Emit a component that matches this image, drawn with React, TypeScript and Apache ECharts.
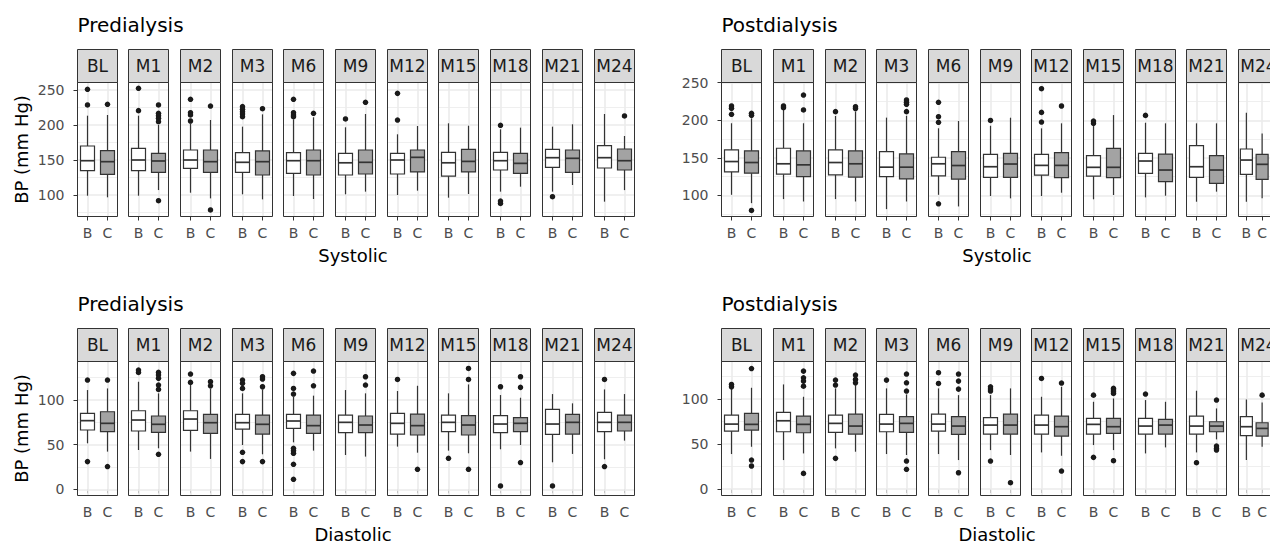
import React, { useEffect, useRef } from 'react';
import * as echarts from 'echarts';

const facets = ['BL', 'M1', 'M2', 'M3', 'M6', 'M9', 'M12', 'M15', 'M18', 'M21', 'M24'];
const groups = ['B', 'C'];
const sysTicks = [100, 150, 200, 250];
const sysMinor = [75, 125, 175, 225];
const diaTicks = [0, 50, 100];
const diaMinor = [25, 75, 125];

// box stats per facet: [lower whisker, Q1, median, Q3, upper whisker]
const preSysB = [
  [99, 134.8, 149, 170, 213.3], [99, 134.8, 150, 166.7, 213.3], [103.3, 138.1, 150, 164.3, 202],
  [101, 132.4, 146.7, 160.5, 197.6], [98.6, 131, 149, 160.5, 208.1], [101, 128.6, 146, 159.5, 196.7],
  [100, 130, 150, 159.5, 186.7], [96.2, 127, 146, 161, 202.4], [104.8, 135.7, 149, 161, 193.8],
  [104.8, 139.5, 153.3, 165.2, 197.6], [90.5, 138.6, 153.3, 170.5, 215.7],
];
const preSysC = [
  [96.7, 129.5, 147.6, 163.3, 214.3], [107.1, 132.4, 148.6, 159.5, 200], [95.2, 132.4, 147.6, 164.3, 207.1],
  [93.8, 128.6, 147.6, 162.9, 215.2], [94.3, 128.6, 149, 164.3, 211], [104.8, 130, 146.7, 164.3, 215.7],
  [106.2, 132.9, 153.8, 164.3, 198.6], [101.4, 132.9, 148, 165.2, 199], [111.9, 131, 145.2, 159.5, 196.2],
  [114.3, 132.4, 152.4, 164.3, 201], [107, 135.7, 149, 165.7, 184.3],
];
const preSysOutB = [
  [251, 228.6], [252.4, 220.5], [236.7, 217.6, 214.3, 205.7], [226.2, 222.4, 219, 215.7, 211.9],
  [236.7, 217.6, 214.3, 211.9], [208.6], [245.2, 207.1], [], [199.5, 91.4, 88], [97.6], [],
];
const preSysOutC = [
  [229.5], [228.6, 216.7, 213.3, 209.5, 204.8, 91.9], [227.1, 78.6], [223.3], [216.7], [232.4],
  [], [], [], [], [212.9],
];

const postSysB = [
  [100.7, 131.3, 145, 160.5, 196], [95, 128.2, 142, 162.7, 213.7], [95, 127.3, 143.7, 160.5, 205.7],
  [81.6, 125, 137.5, 158.3, 203.5], [100.7, 125.9, 142, 150.7, 189.3], [99.1, 124, 138.1, 154.6, 192.7],
  [99.1, 127, 139.9, 154.6, 189.2], [94.7, 125.7, 137.3, 152.8, 192.3], [97.3, 129.3, 145.7, 155.9, 196.7],
  [91.5, 124, 138.1, 166.1, 195.9], [91.5, 128, 147, 161.7, 210],
];
const postSysC = [
  [89.6, 129.5, 143.7, 159.2, 202.6], [91.8, 125, 140.6, 159.2, 196], [91.8, 124.2, 142, 159.2, 211.5],
  [91.8, 121.9, 137.5, 155.2, 206], [85.2, 121.5, 139.7, 158.3, 199], [96, 124, 141.7, 155.9, 203.4],
  [103.5, 123.5, 139.9, 156.8, 195.9], [100.4, 123.5, 137.3, 162.6, 206.9], [99.5, 118.2, 133.7, 155, 195.9],
  [104.9, 116, 133.7, 152.8, 195.9], [96, 121.3, 141.3, 154.6, 182.5],
];
const postSysOutB = [
  [219, 215.9, 207.9], [219, 216.8], [211.5], [], [223.9, 204.8, 197.3, 88.7], [199.8],
  [242, 210.5, 197.6], [199, 195.9], [206.5], [], [],
];
const postSysOutC = [
  [209.3, 206.6, 79.9], [233.6, 213.7], [218.1, 215.5], [227, 223.9, 221.2, 211.5], [], [],
  [219], [], [], [], [],
];

const preDiaB = [
  [51.5, 66.4, 76.9, 85.1, 111.2], [44, 65.3, 77.6, 88, 120.5], [42.2, 66, 78.7, 88, 116.8],
  [49.6, 67.5, 74.6, 84, 107.5], [52.6, 68.3, 76.5, 84, 103.7], [38.4, 63.4, 75, 83.2, 111.2],
  [47.8, 61.9, 73.9, 85.1, 110.1], [43.3, 64.6, 75, 83.2, 107.5], [44.8, 63.4, 73.1, 82.5, 105.6],
  [30.2, 61.6, 73.1, 89.6, 106.7], [33.6, 64.6, 75, 86.2, 111.9],
];
const preDiaC = [
  [42.2, 64.6, 73.9, 86.9, 113], [45.9, 63.8, 72.8, 82.1, 107.5], [34, 62.7, 74.6, 84, 113],
  [39.2, 61.9, 72.8, 83.2, 111.9], [43.3, 62.7, 71.3, 83.2, 104.9], [36.6, 63.4, 72, 82.1, 107.5],
  [41, 60.8, 71.3, 84.3, 116], [40.3, 60.8, 72, 82.5, 117.5], [49.6, 64.6, 73.9, 80.2, 102.6],
  [39.6, 61.9, 75, 84, 96.3], [54.5, 65.3, 75, 83.2, 106.7],
];
const preDiaOutB = [
  [122.4, 31], [133.6, 131], [129.1, 119.8], [122.4, 118.7, 113, 41.4, 31],
  [129.9, 113, 106.7, 45.9, 43.3, 40.3, 28, 11.2], [], [123.1], [34.7], [114.9, 3.7], [3.7], [123.1, 25.4],
];
const preDiaOutC = [
  [122.4, 25.4], [131, 128, 124.3, 116.8, 111.9, 39.2], [120.5, 116], [126.1, 123.5, 114.9, 31],
  [132.5, 116], [126.1, 116.8], [22.4], [135.4, 123.1, 22.4], [126.1, 114.2, 29.9], [], [],
];

const postDiaB = [
  [38.9, 64.4, 72.2, 82.2, 111.9], [32.2, 63.7, 75.9, 85.2, 116.3], [45.2, 63, 73, 82.2, 111.9],
  [38.9, 63.7, 72.2, 83, 111.9], [38.9, 64.4, 72.2, 83.3, 111.9], [43.3, 61.1, 71.1, 79.3, 104.4],
  [40.7, 61.1, 71.1, 82.2, 102.6], [48.9, 61.1, 71.9, 78.5, 97], [39.6, 61.1, 70, 78.5, 98.9],
  [40.7, 61.1, 70, 81.1, 109.3], [32.2, 59.3, 69.3, 80.4, 99.6],
];
const postDiaC = [
  [47, 65.6, 71.9, 84.1, 112.6], [39.6, 62.6, 71.9, 81.1, 102.6], [41.5, 61.1, 70, 83.3, 115.6],
  [37.8, 63, 73, 80.4, 105.2], [32.2, 60.7, 70, 80.4, 104.4], [37.8, 61.1, 71.1, 83.3, 111.9],
  [37, 58.9, 69.3, 81.1, 113.7], [43.3, 61.9, 69.3, 78.5, 100.7], [46.3, 61.1, 71.1, 77.4, 97],
  [55.2, 63.7, 70, 74.8, 89.6], [47, 58.9, 67.4, 73.7, 96.3],
];
const postDiaOutB = [
  [116.3, 113.7], [], [121.1, 115.6, 34.1], [121.1], [129.3, 117.4], [113.7, 111.1, 108.9, 31.1],
  [123], [104.4, 35.2], [105.6], [29.3], [],
];
const postDiaOutC = [
  [134, 32.2, 25.6], [131.1, 123.7, 120, 114.4, 17.4], [126.7, 121.9, 118.1],
  [127.8, 118.1, 108.9, 31.1, 21.9], [127.8, 120, 111.1, 18.1], [7], [117.8, 20],
  [111.9, 110, 108.1, 106.3, 31.5], [], [98.9, 47.8, 45.2, 43.3], [104.4],
];

const FONT = '"DejaVu Sans", "Liberation Sans", Arial, sans-serif';
const DARK = '#333333';
const GRID = '#EBEBEB';
const PITCH = 51.67;
const FW = 40;

const panels = [
  { base: 77.3, stripTop: 49.5, plotTop: 82.5, plotH: 134, min: 69.3, max: 260.7, ticks: sysTicks, minor: sysMinor,
    B: preSysB, C: preSysC, oB: preSysOutB, oC: preSysOutC, title: 'Predialysis', xTitle: 'Systolic', yTitle: true },
  { base: 721.7, stripTop: 49.5, plotTop: 82.5, plotH: 134, min: 71.8, max: 250.3, ticks: sysTicks, minor: sysMinor,
    B: postSysB, C: postSysC, oB: postSysOutB, oC: postSysOutC, title: 'Postdialysis', xTitle: 'Systolic', yTitle: false },
  { base: 77.3, stripTop: 328.5, plotTop: 361.5, plotH: 134, min: -7, max: 143.2, ticks: diaTicks, minor: diaMinor,
    B: preDiaB, C: preDiaC, oB: preDiaOutB, oC: preDiaOutC, title: 'Predialysis', xTitle: 'Diastolic', yTitle: true },
  { base: 721.7, stripTop: 328.5, plotTop: 361.5, plotH: 134, min: -7.2, max: 141.8, ticks: diaTicks, minor: diaMinor,
    B: postDiaB, C: postDiaC, oB: postDiaOutB, oC: postDiaOutC, title: 'Postdialysis', xTitle: 'Diastolic', yTitle: false },
];

const renderBox = (_params: any, api: any) => {
  const x = api.value(0);
  const lo = api.coord([x, api.value(1)]);
  const q1 = api.coord([x, api.value(2)]);
  const md = api.coord([x, api.value(3)]);
  const q3 = api.coord([x, api.value(4)]);
  const hi = api.coord([x, api.value(5)]);
  let bw = Math.round(api.size([1, 0])[0] * 0.68);
  if (bw % 2) bw += 1;
  const cx = lo[0];
  const fill = x === 0 ? '#FFFFFF' : '#A3A3A3';
  const ls = { stroke: DARK, lineWidth: 1.2 };
  return {
    type: 'group',
    children: [
      { type: 'line', shape: { x1: cx, y1: lo[1], x2: cx, y2: q1[1] }, style: ls },
      { type: 'line', shape: { x1: cx, y1: q3[1], x2: cx, y2: hi[1] }, style: ls },
      { type: 'rect', shape: { x: cx - bw / 2, y: q3[1], width: bw, height: q1[1] - q3[1] }, style: { fill, stroke: DARK, lineWidth: 1.2 } },
      { type: 'line', shape: { x1: cx - bw / 2, y1: md[1], x2: cx + bw / 2, y2: md[1] }, style: { stroke: DARK, lineWidth: 1.7 } },
    ],
  };
};

export default function App() {
  const ref = useRef<HTMLDivElement>(null);
  useEffect(() => {
    if (!ref.current) return;
    const chart = echarts.init(ref.current, null, { renderer: 'svg' });
    const grid: any[] = [];
    const xAxis: any[] = [];
    const yAxis: any[] = [];
    const series: any[] = [];
    const graphic: any[] = [];

    panels.forEach((p, pi) => {
      const lefts = facets.map((_, i) => Math.floor(p.base + PITCH * i) + 0.5);
      facets.forEach((f, i) => {
        const g = pi * facets.length + i;
        const left = lefts[i];
        grid.push({ left, top: p.plotTop, width: FW, height: p.plotH, containLabel: false });
        xAxis.push({
          type: 'category', gridIndex: g, data: groups, boundaryGap: true,
          axisLine: { show: false },
          axisTick: { show: true, alignWithLabel: true, length: 4, lineStyle: { color: DARK, width: 1 } },
          axisLabel: { show: true, color: '#4D4D4D', fontSize: 14, fontFamily: FONT, margin: 9 },
          splitLine: { show: false },
        });
        yAxis.push({
          type: 'value', gridIndex: g, min: p.min, max: p.max,
          axisLine: { show: false },
          axisTick: { show: i === 0, length: 4, customValues: p.ticks, lineStyle: { color: DARK, width: 1 } },
          axisLabel: { show: i === 0, customValues: p.ticks, color: '#4D4D4D', fontSize: 14, fontFamily: FONT, margin: 13 },
          splitLine: { show: false },
          minorSplitLine: { show: false },
        });
        series.push({
          type: 'custom', xAxisIndex: g, yAxisIndex: g, z: 2,
          renderItem: renderBox,
          encode: { x: 0, y: 1 },
          data: [[0, ...p.B[i]], [1, ...p.C[i]]],
          silent: true,
          markLine: {
            silent: true, z: 1, symbol: ['none', 'none'], label: { show: false },
            data: [
              ...p.minor.map((v) => ({ yAxis: v, lineStyle: { color: GRID, width: 0.8, type: 'solid' } })),
              ...p.ticks.map((v) => ({ yAxis: v, lineStyle: { color: GRID, width: 1.6, type: 'solid' } })),
              ...groups.map((c) => ({ xAxis: c, lineStyle: { color: GRID, width: 1.6, type: 'solid' } })),
            ],
          },
        });
        series.push({
          type: 'scatter', xAxisIndex: g, yAxisIndex: g, z: 3, symbol: 'circle', symbolSize: 5.5,
          itemStyle: { color: '#1A1A1A', opacity: 1 }, silent: true,
          data: [...p.oB[i].map((v) => [0, v]), ...p.oC[i].map((v) => [1, v])],
        });
        // strip
        graphic.push({
          type: 'rect', z: 50,
          shape: { x: left, y: p.stripTop, width: FW, height: p.plotTop - p.stripTop },
          style: { fill: '#D9D9D9', stroke: DARK, lineWidth: 1 },
        });
        graphic.push({
          type: 'text', z: 51, x: left + FW / 2, y: (p.stripTop + p.plotTop) / 2,
          style: { text: f, fontSize: 17, fontFamily: FONT, fill: '#1A1A1A', align: 'center', verticalAlign: 'middle' },
        });
        // panel border
        graphic.push({
          type: 'rect', z: 60,
          shape: { x: left, y: p.plotTop, width: FW, height: p.plotH },
          style: { fill: 'none', stroke: DARK, lineWidth: 1 },
        });
      });
      const first = lefts[0];
      const last = lefts[lefts.length - 1] + FW;
      graphic.push({
        type: 'text', z: 51, x: first, y: p.stripTop - 24.5,
        style: { text: p.title, fontSize: 20, fontFamily: FONT, fill: '#000', align: 'left', verticalAlign: 'middle' },
      });
      graphic.push({
        type: 'text', z: 51, x: (first + last) / 2 - 3, y: p.plotTop + p.plotH + 39,
        style: { text: p.xTitle, fontSize: 18, fontFamily: FONT, fill: '#000', align: 'center', verticalAlign: 'middle' },
      });
      if (p.yTitle) {
        graphic.push({
          type: 'text', z: 51, x: 21.5, y: p.plotTop + p.plotH / 2, rotation: Math.PI / 2,
          style: { text: 'BP (mm Hg)', fontSize: 18, fontFamily: FONT, fill: '#000', align: 'center', verticalAlign: 'middle' },
        });
      }
    });

    chart.setOption({
      animation: false,
      backgroundColor: '#FFFFFF',
      textStyle: { fontFamily: FONT },
      grid, xAxis, yAxis, series, graphic,
    });
    return () => chart.dispose();
  }, []);
  return (
    <div
      ref={ref}
      style={{ position: 'fixed', left: 0, top: 0, width: 1270, height: 545, background: '#fff' }}
    />
  );
}
